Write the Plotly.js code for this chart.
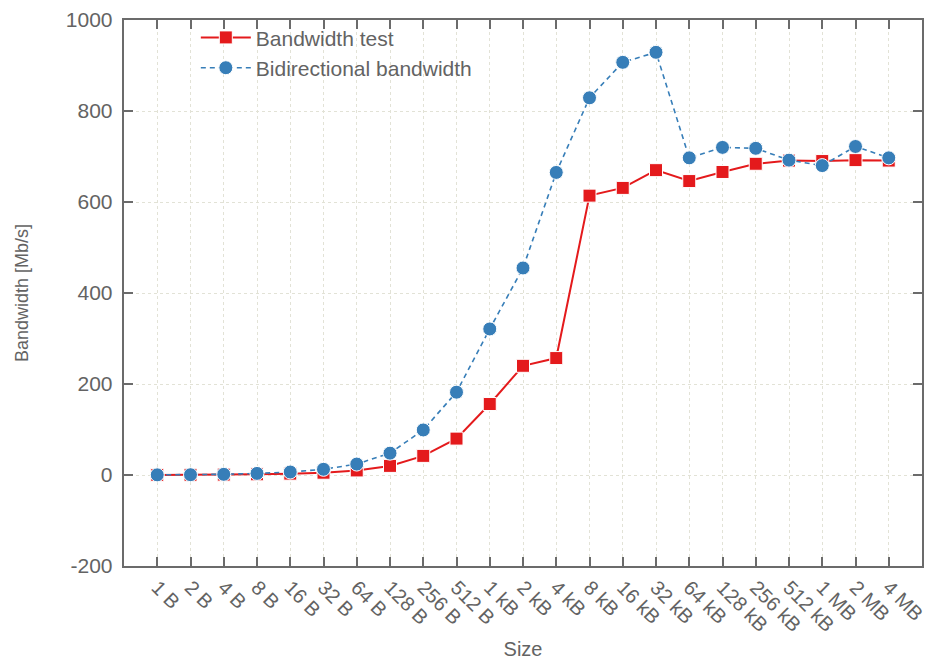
<!DOCTYPE html>
<html>
<head>
<meta charset="utf-8">
<script src="https://cdn.plot.ly/plotly-3.0.1.min.js"></script>
<style>html,body{margin:0;padding:0;background:#fff;}#chart{width:928px;height:660px;}</style>
</head>
<body>
<div id="chart"></div>
<script>
const sizes = ["1 B","2 B","4 B","8 B","16 B","32 B","64 B","128 B","256 B","512 B","1 kB","2 kB","4 kB","8 kB","16 kB","32 kB","64 kB","128 kB","256 kB","512 kB","1 MB","2 MB","4 MB"];
const bandwidthTest = [0.2,0.4,0.8,1.5,3,5,10,20,42,80,156,240,257,614,631,670,646,666,684,691,690,692,691];
const bidirectional = [0.3,0.6,1.5,3.5,6.6,12.5,24,48,99,182,321,455,665,829,907,929,697,720,718,692,680,722,697];
const yTicks = [-200,0,200,400,600,800,1000];
const yTickLabels = ["-200","0","200","400","600","800","1000"];

const xIdx = sizes.map((s,i)=>i);
const textColor = '#636363';
const axisColor = '#6b6b6b';
const gridColor = '#e2e2d6';
const fontFam = 'Liberation Sans, Arial, Helvetica, sans-serif';

const traces = [
  {x: xIdx, y: bandwidthTest, name: 'Bandwidth test', type: 'scatter', mode: 'lines+markers',
   line: {color: '#e41a1c', width: 2}, marker: {symbol: 'square', size: 13, color: '#e41a1c', line: {color:'#ffffff', width: 1}}},
  {x: xIdx, y: bidirectional, name: 'Bidirectional bandwidth', type: 'scatter', mode: 'lines+markers',
   line: {color: '#377eb8', width: 1.6, dash: '5px,4px'}, marker: {symbol: 'circle', size: 14, color: '#377eb8', line: {color:'#ffffff', width: 1}}}
];

const layout = {
  width: 928, height: 660,
  margin: {l: 124, r: 6, t: 20, b: 94},
  paper_bgcolor: '#ffffff', plot_bgcolor: '#ffffff',
  font: {family: fontFam, color: textColor, size: 21},
  showlegend: true,
  legend: {x: 0.09, y: 1.005, xanchor: 'left', yanchor: 'top', bgcolor: 'rgba(0,0,0,0)',
           font: {size: 21, color: textColor}, tracegroupgap: 0, itemwidth: 50},
  xaxis: {
    range: [-1, 23], tickmode: 'array', tickvals: xIdx, ticktext: sizes,
    tickangle: 45, ticks: 'inside', ticklen: 9, tickwidth: 2, tickcolor: axisColor,
    showline: true, linecolor: axisColor, linewidth: 2, mirror: 'ticks',
    showgrid: true, gridcolor: gridColor, griddash: 'dot', gridwidth: 1,
    zeroline: false, tickfont: {size: 20, color: textColor},
    title: {text: 'Size', font: {size: 20, color: textColor}, standoff: 16}
  },
  yaxis: {
    range: [-200, 1000], tickmode: 'array', tickvals: yTicks,
    ticktext: yTickLabels.map(t => t + '\u2005'),
    ticks: 'inside', ticklen: 9, tickwidth: 2, tickcolor: axisColor,
    showline: true, linecolor: axisColor, linewidth: 2, mirror: 'ticks',
    showgrid: true, gridcolor: gridColor, griddash: 'dot', gridwidth: 1,
    zeroline: false, tickfont: {size: 21, color: textColor},
    title: {text: 'Bandwidth [Mb/s]', font: {size: 18, color: textColor}, standoff: 33}
  }
};

Plotly.newPlot('chart', traces, layout, {staticPlot: true, displayModeBar: false});
</script>
</body>
</html>
